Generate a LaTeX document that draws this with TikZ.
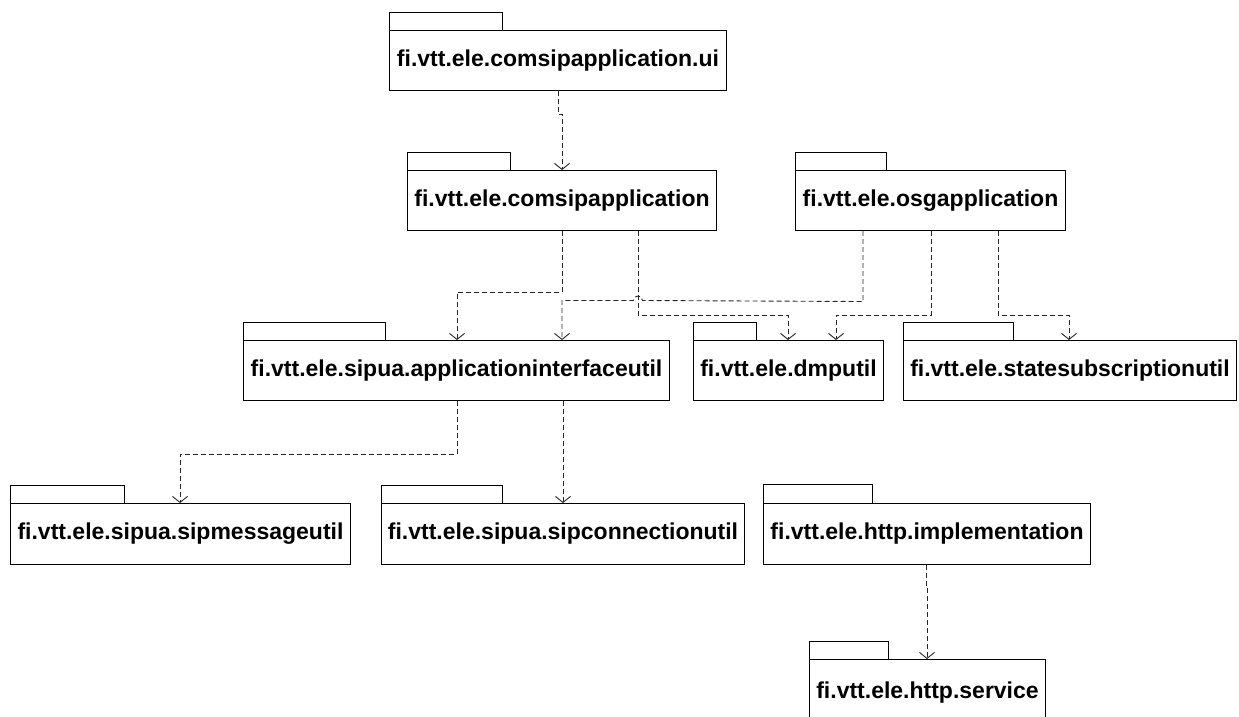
\documentclass[tikz,border=0pt]{standalone}
\usepackage{fontspec}
\setmainfont{Liberation Sans}
\usetikzlibrary{arrows.meta}

\begin{document}
\begin{tikzpicture}[x=1pt,y=-1pt,
  pkg/.style={draw=black,line width=1pt,inner sep=0pt,anchor=north west,
    font=\fontsize{23}{27}\selectfont\bfseries},
  tab/.style={draw=black,line width=1pt},
  dep/.style={draw=black!85,line width=0.9pt,dash pattern=on 5pt off 3pt,
    -{Straight Barb[length=6pt,width=15pt,line width=0.9pt]}}]
\useasboundingbox (0,0) rectangle (1239,716);

% package boxes: upper-left corner, size, then the tab on top
\node[pkg,minimum width=337,minimum height=60] (ui) at (389,30) {fi.vtt.ele.comsipapplication.ui};
\draw[tab] (ui.north west) rectangle ++(113,-18);

\node[pkg,minimum width=309,minimum height=60] (comsip) at (407,170) {fi.vtt.ele.comsipapplication};
\draw[tab] (comsip.north west) rectangle ++(103,-18);

\node[pkg,minimum width=270,minimum height=60] (osg) at (795,170) {fi.vtt.ele.osgapplication};
\draw[tab] (osg.north west) rectangle ++(91,-18);

\node[pkg,minimum width=426,minimum height=60] (appint) at (243,340) {fi.vtt.ele.sipua.applicationinterfaceutil};
\draw[tab] (appint.north west) rectangle ++(142,-18);

\node[pkg,minimum width=190,minimum height=60] (dmp) at (693,340) {fi.vtt.ele.dmputil};
\draw[tab] (dmp.north west) rectangle ++(63,-18);

\node[pkg,minimum width=333,minimum height=60] (state) at (903,340) {fi.vtt.ele.statesubscriptionutil};
\draw[tab] (state.north west) rectangle ++(110,-18);

\node[pkg,minimum width=340,minimum height=61] (sipmsg) at (10,503) {fi.vtt.ele.sipua.sipmessageutil};
\draw[tab] (sipmsg.north west) rectangle ++(114,-18);

\node[pkg,minimum width=363,minimum height=61] (sipconn) at (381,503) {fi.vtt.ele.sipua.sipconnectionutil};
\draw[tab] (sipconn.north west) rectangle ++(121,-18);

\node[pkg,minimum width=327,minimum height=61] (himpl) at (763,503) {fi.vtt.ele.http.implementation};
\draw[tab] (himpl.north west) rectangle ++(109,-19);

\node[pkg,minimum width=236,minimum height=66] (hserv) at (809,659) {fi.vtt.ele.http.service};
\draw[tab] (hserv.north west) rectangle ++(79,-18);

% dependencies
\draw[dep] ([xshift=169pt]ui.south west) -- ++(0,23) -- ++(4,0)
  -- ([xshift=155pt]comsip.north west);
\draw[dep] ([xshift=155pt]comsip.south west) -- ++(0,61)
  -| ([xshift=214pt]appint.north west);
\draw[dep] ([xshift=231pt]comsip.south west) -- ++(0,84)
  -| ([xshift=95pt]dmp.north west);
% crosses the line above with a small hop
\draw[dep] ([xshift=68pt]osg.south west) -- ++(0,70.5) -- (642.5,300.5)
  .. controls (642.5,294.5) and (633.5,294.5) .. (633.5,300.5)
  -| ([xshift=319pt]appint.north west);
\draw[dep] ([xshift=136pt]osg.south west) -- ++(0,84)
  -| ([xshift=143pt]dmp.north west);
\draw[dep] ([xshift=203pt]osg.south west) -- ++(0,84)
  -| ([xshift=166pt]state.north west);
\draw[dep] ([xshift=214pt]appint.south west) -- ++(0,53)
  -| ([xshift=170pt]sipmsg.north west);
\draw[dep] ([xshift=320pt]appint.south west)
  -- ([xshift=182pt]sipconn.north west);
\draw[dep] ([xshift=163pt]himpl.south west) -- ++(0,22) -- ++(1,0)
  -- ([xshift=118pt]hserv.north west);
\end{tikzpicture}
\end{document}
